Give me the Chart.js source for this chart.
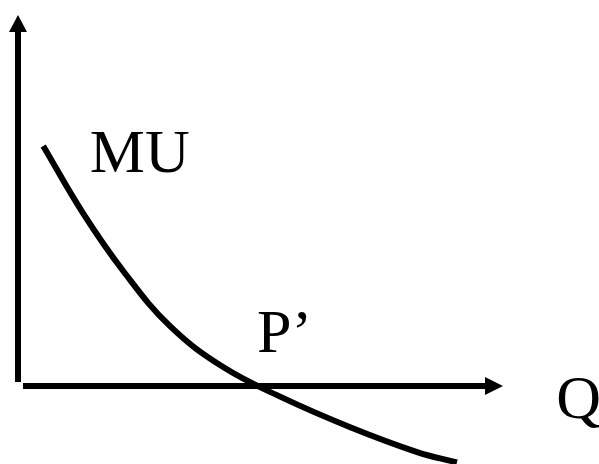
<!DOCTYPE html>
<html>
<head>
<meta charset="utf-8">
<script src="https://cdn.jsdelivr.net/npm/chart.js"></script>
<style>
  html, body { margin: 0; padding: 0; background: #fff; }
  #wrap { width: 599px; height: 464px; }
</style>
</head>
<body>
<div id="wrap"><canvas id="chart" width="599" height="464"></canvas></div>
<script>
// Curva de utilidad marginal (MU) contra cantidad (Q)
const qValues  = [0.52, 1.34, 2.17, 3.13, 4.23, 5.46, 6.85, 8.23, 9.05];
const muValues = [6.47, 4.66, 3.10, 1.62, 0.51, -0.32, -1.11, -1.78, -2.06];

// Etiquetas del diagrama: texto y punto (Q, MU) donde empieza
const labelTexts = ['MU', 'P\u2019', 'Q'];
const labelQ     = [1.48, 4.93, 11.1];
const labelMU    = [5.77, 0.92, -0.86];

// Largo de los ejes en unidades
const axisMaxQ = 10;
const axisMaxMU = 10;

const axesPlugin = {
    id: 'axesPlugin',
    afterDatasetsDraw(chart) {
        const ctx = chart.ctx;
        const xs = chart.scales.x;
        const ys = chart.scales.y;
        const x0 = xs.getPixelForValue(0);
        const y0 = ys.getPixelForValue(0);
        const xEnd = xs.getPixelForValue(axisMaxQ);
        const yEnd = ys.getPixelForValue(axisMaxMU);

        ctx.save();
        ctx.fillStyle = '#000';
        // eje vertical
        ctx.fillRect(x0 - 3, yEnd + 12, 6, (y0 - 4) - (yEnd + 12));
        ctx.beginPath();
        ctx.moveTo(x0, yEnd);
        ctx.lineTo(x0 - 9, yEnd + 17);
        ctx.lineTo(x0 + 9, yEnd + 17);
        ctx.closePath();
        ctx.fill();
        // eje horizontal
        ctx.fillRect(x0 + 5, y0 - 3, (xEnd - 12) - (x0 + 5), 6);
        ctx.beginPath();
        ctx.moveTo(xEnd, y0);
        ctx.lineTo(xEnd - 18, y0 - 9);
        ctx.lineTo(xEnd - 18, y0 + 9);
        ctx.closePath();
        ctx.fill();

        // textos
        ctx.font = '62px "Liberation Serif", "Times New Roman", serif';
        ctx.textAlign = 'left';
        ctx.textBaseline = 'alphabetic';
        labelTexts.forEach((t, i) => {
            ctx.fillText(t, xs.getPixelForValue(labelQ[i]), ys.getPixelForValue(labelMU[i]));
        });
        ctx.restore();
    }
};

new Chart(document.getElementById('chart'), {
    type: 'scatter',
    data: {
        datasets: [{
            label: 'MU',
            data: qValues.map((q, i) => ({ x: q, y: muValues[i] })),
            showLine: true,
            borderColor: '#000',
            borderWidth: 6,
            pointRadius: 0,
            tension: 0.4,
            fill: false
        }]
    },
    options: {
        responsive: false,
        animation: false,
        layout: { padding: 0 },
        scales: {
            x: { type: 'linear', min: -0.371, max: 11.979, display: false },
            y: { type: 'linear', min: -2.102, max: 10.404, display: false }
        },
        plugins: {
            legend: { display: false },
            tooltip: { enabled: false }
        }
    },
    plugins: [axesPlugin]
});
</script>
</body>
</html>
